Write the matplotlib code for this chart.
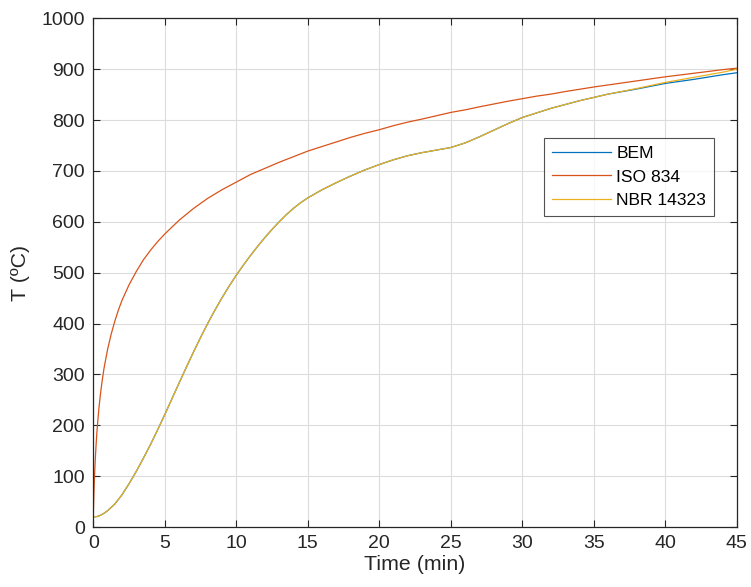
import matplotlib
matplotlib.use("Agg")
import matplotlib.pyplot as plt

plt.rcParams['font.family'] = ['Liberation Sans', 'DejaVu Sans']

# ISO 834 standard curve
t_iso = [0, 0.01, 0.02, 0.03, 0.05, 0.07, 0.1, 0.12, 0.15, 0.2, 0.25, 0.3, 0.4, 0.5, 0.6, 0.75, 1,
         1.25, 1.5, 1.75, 2, 2.5, 3, 3.5, 4, 4.5, 5, 6, 7, 8, 9, 10, 11, 12, 13, 14, 15, 16, 17, 18,
         19, 20, 21, 22, 23, 24, 25, 26, 27, 28, 29, 30, 31, 32, 33, 34, 35, 36, 37, 38, 39, 40,
         41, 42, 43, 44, 45]
T_iso = [20, 31.5, 42, 52, 70, 87, 108, 121, 138, 163, 185, 203, 235, 261, 283, 312, 349,
         379, 404, 426, 445, 476, 502, 525, 544, 561, 576, 603, 626, 646, 663, 678, 693, 705, 717,
         728, 739, 748, 757, 766, 774, 781, 789, 796, 802, 808.5, 815, 820, 826, 831.5, 837, 842,
         847, 851, 856, 860.5, 865, 869, 873, 877, 881, 885, 888.5, 892, 895.5, 899, 902]

# NBR 14323 steel temperature
t_nbr = [0, 0.25, 0.5, 0.75, 1, 1.5, 2, 2.5, 3, 3.5, 4, 4.5, 5, 5.5, 6, 6.5, 7, 7.5, 8, 8.5, 9, 9.5,
         10, 10.5, 11, 11.5, 12, 12.5, 13, 13.5, 14, 14.5, 15, 16, 17, 18, 19, 20, 21, 22, 23, 24, 25,
         26, 27, 28, 29, 30, 32, 34, 36, 38, 40, 42, 44, 45]
T_nbr = [20, 20.5, 23, 27, 32, 45, 63, 85, 109, 135, 162, 191, 221, 252, 283, 313.5, 343.5, 372.5,
         400, 426, 450.5, 473.5, 495, 515, 534, 552, 569, 585, 600, 614, 626.5, 637.5, 647, 663, 677,
         690, 702, 712.5, 722, 730, 736, 741, 746, 755, 767, 780, 793, 805, 823, 838, 851, 862, 874,
         884, 894, 900]

# BEM solution
t_bem = [0, 0.25, 0.5, 0.75, 1, 1.5, 2, 2.5, 3, 3.5, 4, 4.5, 5, 5.5, 6, 6.5, 7, 7.5, 8, 8.5, 9, 9.5,
         10, 10.5, 11, 11.5, 12, 12.5, 13, 13.5, 14, 14.5, 15, 16, 17, 18, 19, 20, 21, 22, 23, 24, 25,
         26, 27, 28, 29, 30, 32, 34, 36, 38, 40, 42, 44, 45]
T_bem = [20, 20.5, 23, 27, 32, 45, 63, 85, 109, 135, 162, 191, 221, 252, 283, 313.5, 343.5, 372.5,
         400, 426, 450.5, 473.5, 495, 515, 534, 552, 569, 585, 600, 614, 626.5, 637.5, 647, 663, 677,
         690, 702, 712.5, 722, 730, 736, 741, 746, 755, 767, 780, 793, 805, 823, 838, 851, 861, 872,
         880, 889, 893]

xticks = [0, 5, 10, 15, 20, 25, 30, 35, 40, 45]
yticks = [0, 100, 200, 300, 400, 500, 600, 700, 800, 900, 1000]

fig = plt.figure(figsize=(7.51, 5.87), dpi=100)
ax = fig.add_axes([0.1242, 0.1022, 0.8569, 0.8666])

ax.plot(t_bem, T_bem, color='#0072BD', lw=0.9, label='BEM')
ax.plot(t_iso, T_iso, color='#D95319', lw=0.9, label='ISO 834')
ax.plot(t_nbr, T_nbr, color='#EDB120', lw=0.9, label='NBR 14323')

ax.set_xlim(0, 45)
ax.set_ylim(0, 1000)
ax.set_xticks(xticks)
ax.set_yticks(yticks)
ax.grid(True, color='#dcdcdc', lw=0.8)
ax.set_axisbelow(True)
for s in ax.spines.values():
    s.set_color('#262626')
    s.set_linewidth(0.9)
ax.tick_params(direction='in', length=5, width=0.8, colors='#262626', labelsize=14,
               top=True, right=True, pad=6)
ax.set_xlabel('Time (min)', fontsize=15.4, color='#262626', labelpad=2)
ax.set_ylabel('T (ºC)', fontsize=15.4, color='#262626', labelpad=8)

leg = ax.legend(loc='upper left', bbox_to_anchor=(0.700, 0.764), fontsize=12.6,
                frameon=True, fancybox=False, edgecolor='#262626', handlelength=3.4,
                borderpad=0.45, labelspacing=0.45, handletextpad=0.3, borderaxespad=0)
leg.get_frame().set_linewidth(0.8)

fig.savefig('out.png', dpi=100)
